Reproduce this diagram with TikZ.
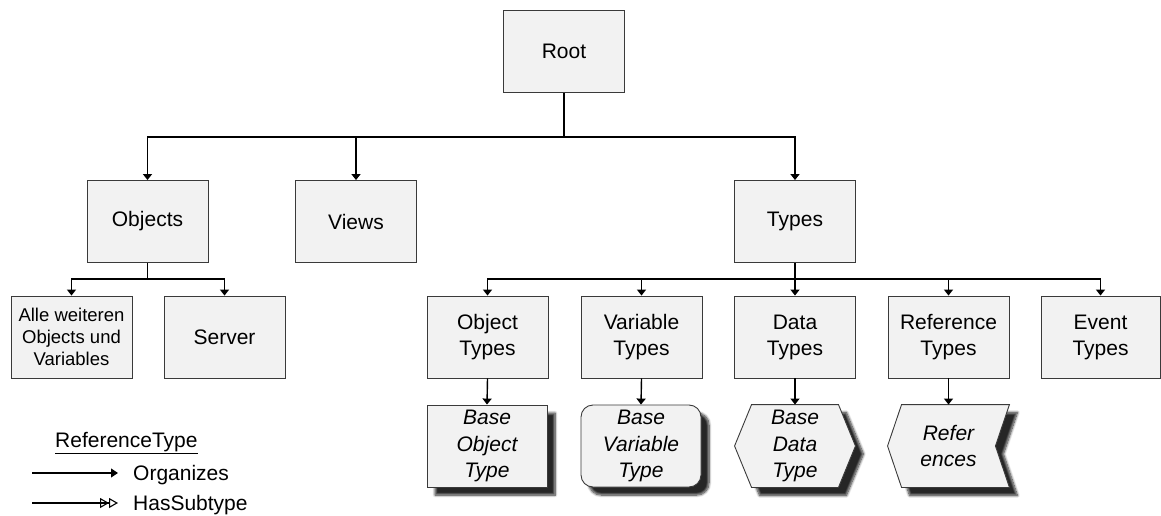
\documentclass[tikz,border=0pt]{standalone}
\usepackage{fontspec}
\setmainfont{Liberation Sans}
\usetikzlibrary{arrows.meta,shadows.blur,backgrounds}
\definecolor{boxfill}{HTML}{F2F2F2}
\definecolor{boxline}{HTML}{3A3A3A}
\begin{document}
\begin{tikzpicture}[x=1pt,y=-1pt,
  every node/.style={font=\fontsize{21}{26}\selectfont},
  box/.style={draw=boxline, fill=boxfill, line width=0.9pt, minimum width=121pt, minimum height=82pt, inner sep=0pt, align=center},
  basetext/.style={font=\fontsize{21}{26.5}\selectfont\itshape},
  conn/.style={line width=1.4pt, -{Triangle[width=9pt,length=6pt]}},
  plain/.style={line width=1.4pt},
  shad/.style={blur shadow={shadow xshift=8pt, shadow yshift=-8pt, shadow blur radius=2.5pt, shadow blur steps=8, shadow opacity=85}}]
\useasboundingbox (0,0) rectangle (1161,516);

% level 1 and 2
\node[box] (root) at (564,51.5) {Root};
\node[box] (objects) at (147.5,221.5) {Objects};
\node[box] (views) at (356,221.5) {Views};
\node[box] (types) at (795,221.5) {Types};

% level 3
\node[box, font=\fontsize{18.5}{22}\selectfont] (alle) at (71.5,337) {Alle weiteren\\Objects und\\Variables};
\node[box] (server) at (224.5,337) {Server};
\node[box] (ot) at (487.5,337) {Object\\Types};
\node[box] (vt) at (641.5,337) {Variable\\Types};
\node[box] (dt) at (795,337) {Data\\Types};
\node[box] (rt) at (948.5,337) {Reference\\Types};
\node[box, minimum width=119pt] (et) at (1100.5,337) {Event\\Types};

% level 4
\node[box, shad, basetext, minimum width=120pt] (bot) at (487,446) {Base\\Object\\Type};
\node[box, shad, basetext, minimum width=120pt, rounded corners=12pt] (bvt) at (641,446) {Base\\Variable\\Type};
\node[box, basetext, draw=none, fill=none, minimum width=120pt] (bdt) at (795,446) {Base\\Data\\Type};
\node[box, basetext, draw=none, fill=none] (ref) at (948.5,446) {Refer\\ences};
\begin{scope}[on background layer]
  \path[draw=boxline, fill=boxfill, line width=0.9pt, shad]
    ([xshift=17pt]bdt.north west) -- ([xshift=-17pt]bdt.north east) -- (bdt.east)
    -- ([xshift=-17pt]bdt.south east) -- ([xshift=17pt]bdt.south west) -- (bdt.west) -- cycle;
  \path[draw=boxline, fill=boxfill, line width=0.9pt, shad]
    ([xshift=14pt]ref.north west) -- (ref.north east) -- ([xshift=-14pt]ref.east)
    -- (ref.south east) -- ([xshift=14pt]ref.south west) -- (ref.west) -- cycle;
\end{scope}

% connectors
\coordinate (bus1) at (564,137);
\draw[plain] (root.south) -- (bus1);
\draw[conn] (bus1) -| (objects.north);
\draw[conn] (bus1) -| (types.north);
\draw[conn] (bus1 -| views.north) -- (views.north);

\coordinate (bus2) at (147.5,279);
\draw[plain] (objects.south) -- (bus2);
\draw[conn] (bus2) -| (alle.north);
\draw[conn] (bus2) -| (server.north);

\coordinate (bus3) at (795,279);
\draw[plain] (types.south) -- (bus3);
\draw[conn] (bus3) -| (ot.north);
\draw[conn] (bus3) -| (vt.north);
\draw[conn] (bus3) -- (dt.north);
\draw[conn] (bus3) -| (rt.north);
\draw[conn] (bus3) -| (et.north);

\draw[conn] (ot.south) -- (bot.north);
\draw[conn] (vt.south) -- (bvt.north);
\draw[conn] (dt.south) -- (bdt.north);
\draw[conn] (rt.south) -- (ref.north);

% legend
\node[anchor=base west, inner sep=0pt] (legt) at (55,447) {\underline{ReferenceType}};
\coordinate (l1a) at (32,473);
\coordinate (l1b) at (118,473);
\draw[line width=1.1pt, -{Triangle[width=9pt,length=7pt]}] (l1a) -- (l1b);
\node[anchor=west, inner sep=0pt] (org) at (133,475) {Organizes};
\coordinate (l2a) at (32,503);
\coordinate (l2b) at (118,503);
\draw[line width=1.1pt, -{Triangle[open,width=10pt,length=9pt]Triangle[open,width=10pt,length=9pt]}] (l2a) -- (l2b);
\node[anchor=west, inner sep=0pt] (hs) at (133,505) {HasSubtype};
\end{tikzpicture}
\end{document}
